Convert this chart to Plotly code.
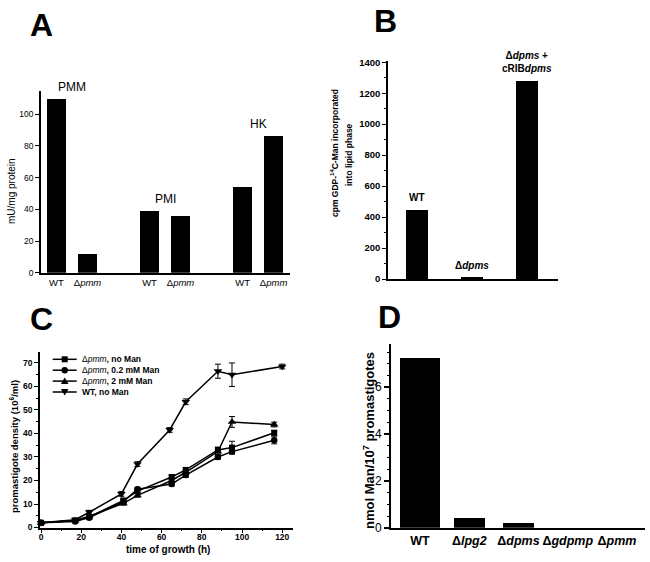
import plotly.graph_objects as go

# ---------------- data ----------------
# Panel A
a_groups = ["PMM", "PMI", "HK"]
a_strains = ["WT", "Δ<i>pmm</i>"]
a_wt = [109.5, 39.0, 54.3]
a_pmm = [12.0, 36.0, 86.0]
a_yticks = [0, 20, 40, 60, 80, 100]

# Panel B
b_labels = ["<b>WT</b>", "<b>Δ<i>dpms</i></b>", "<b>Δ<i>dpms</i> +<br>cRIB<i>dpms</i></b>"]
b_values = [446, 8, 1277]

# Panel C
c_t = [0, 17, 24, 41, 48, 65, 72, 88, 95, 116]
c_sq = [2.0, 3.0, 4.5, 11.5, 15.5, 21.5, 24.5, 33.0, 34.0, 40.3]
c_sq_err = [0.3, 0.3, 0.5, 0.8, 0.8, 1.0, 1.0, 1.2, 2.7, 1.0]
c_ci = [2.0, 2.5, 4.2, 11.0, 16.3, 18.5, 22.3, 30.0, 32.3, 37.1]
c_ci_err = [0.3, 0.3, 0.5, 0.8, 0.8, 0.8, 1.0, 1.0, 1.0, 1.5]
c_tr = [2.0, 3.0, 4.8, 10.3, 13.7, 20.0, 23.5, 32.3, 44.9, 43.8]
c_tr_err = [0.3, 0.3, 0.5, 0.8, 0.8, 1.0, 1.0, 1.5, 2.3, 1.0]
c_t_wt = [0, 17, 24, 40, 48, 64, 72, 88, 95, 120]
c_wt = [2.0, 3.3, 6.5, 14.3, 27.0, 41.5, 53.5, 66.5, 65.0, 68.5]
c_wt_err = [0.3, 0.3, 0.8, 1.0, 1.0, 1.0, 1.2, 3.0, 5.0, 1.0]
c_names = ["Δ<i>pmm</i><b>, no Man</b>", "Δ<i>pmm</i><b>, 0.2 mM Man</b>",
           "Δ<i>pmm</i><b>, 2 mM Man</b>", "<b>WT, no Man</b>"]

# Panel D
d_labels = ["<b>WT</b>", "<b>Δ<i>lpg2</i></b>", "<b>Δ<i>dpms</i></b>",
            "<b>Δ<i>gdpmp</i></b>", "<b>Δ<i>pmm</i></b>"]
d_values = [7.27, 0.44, 0.21, 0.0, 0.0]

# ---------------- helpers ----------------
W, H = 650, 562
FONT = "Liberation Sans, Arial, Helvetica, sans-serif"


def px(x):
    return x / W


def py(y):
    return 1 - y / H


fig = go.Figure()

# ---------------- Panel A ----------------
a_x = []
a_y = []
for g in range(len(a_groups)):
    a_x += [3 * g, 3 * g + 1]
    a_y += [a_wt[g], a_pmm[g]]
fig.add_trace(go.Bar(x=a_x, y=a_y, width=0.61, marker=dict(color="black", line=dict(width=0)),
                     xaxis="x", yaxis="y", showlegend=False))

# ---------------- Panel B ----------------
fig.add_trace(go.Bar(x=list(range(len(b_values))), y=b_values, width=0.4,
                     marker=dict(color="black", line=dict(width=0)),
                     xaxis="x2", yaxis="y2", showlegend=False))

# ---------------- Panel C ----------------
series = [
    (c_t, c_sq, c_sq_err, "square", 6),
    (c_t, c_ci, c_ci_err, "circle", 6.5),
    (c_t, c_tr, c_tr_err, "triangle-up", 7.5),
    (c_t_wt, c_wt, c_wt_err, "triangle-down", 7.5),
]
for (tx, vy, err, sym, sz), nm in zip(series, c_names):
    fig.add_trace(go.Scatter(
        x=tx, y=vy, mode="lines+markers", name=nm,
        line=dict(color="black", width=1.5),
        marker=dict(symbol=sym, size=sz, color="black"),
        error_y=dict(type="data", array=err, color="black", thickness=1, width=3),
        xaxis="x3", yaxis="y3", showlegend=False, cliponaxis=False))

# ---------------- Panel D ----------------
fig.add_trace(go.Bar(x=list(range(len(d_values))), y=d_values,
                     width=[0.8] + [0.63] * (len(d_values) - 1),
                     marker=dict(color="black", line=dict(width=0)),
                     xaxis="x4", yaxis="y4", showlegend=False))

axis_common = dict(showgrid=False, zeroline=False, showline=True, linecolor="black",
                   color="black", automargin=False)

fig.update_layout(
    width=W, height=H,
    margin=dict(l=0, r=0, t=0, b=0, autoexpand=False),
    paper_bgcolor="white", plot_bgcolor="white",
    font=dict(family=FONT, color="black"),
    bargap=0,
    # A
    xaxis=dict(axis_common, domain=[px(41), px(290)], range=[-0.5, 7.53], anchor="y",
               tickvals=a_x, ticktext=a_strains * len(a_groups), ticks="",
               linewidth=1.5, tickfont=dict(size=9.5)),
    yaxis=dict(axis_common, domain=[py(272.7), py(91)], range=[0, 114.7], anchor="x",
               tickvals=a_yticks, ticks="outside", ticklen=4, tickwidth=1, linewidth=1.5,
               tickfont=dict(size=8.5)),
    # B
    xaxis2=dict(axis_common, domain=[px(388), px(558)], range=[-0.53, 2.56], anchor="y2",
                showticklabels=False, ticks="", linewidth=1.5),
    yaxis2=dict(axis_common, domain=[py(279), py(61)], range=[0, 1408], anchor="x2",
                dtick=200, ticks="outside", ticklen=4, tickwidth=1.2, linewidth=1.5,
                minor=dict(dtick=100, ticks="outside", ticklen=2, tickwidth=1, tickcolor="black"),
                tickfont=dict(size=9.5), tickprefix="<b>", ticksuffix="</b>"),
    # C
    xaxis3=dict(axis_common, domain=[px(40), px(293.3)], range=[-0.5, 125.5], anchor="y3",
                dtick=20, ticks="outside", ticklen=4, tickwidth=1.2, linewidth=1.5,
                minor=dict(dtick=10, ticks="outside", ticklen=2, tickwidth=1, tickcolor="black"),
                tickfont=dict(size=8.5), tickprefix="<b>", ticksuffix="</b>",
                ticklabelstandoff=-3),
    yaxis3=dict(axis_common, domain=[py(527.5), py(351.7)], range=[0, 74.8], anchor="x3",
                dtick=10, ticks="outside", ticklen=4, tickwidth=1.2, linewidth=1.5,
                minor=dict(dtick=5, ticks="outside", ticklen=2, tickwidth=1, tickcolor="black"),
                tickfont=dict(size=8.5), tickprefix="<b>", ticksuffix="</b>"),
    # D
    xaxis4=dict(axis_common, domain=[px(391), px(645)], range=[-0.59, 4.57], anchor="y4",
                tickvals=list(range(len(d_labels))), ticktext=d_labels, ticks="",
                linewidth=2, tickfont=dict(size=12.5)),
    yaxis4=dict(axis_common, domain=[py(527.7), py(343.7)], range=[0, 7.86], anchor="x4",
                dtick=2, ticks="outside", ticklen=5, tickwidth=1.5, linewidth=2,
                minor=dict(dtick=0.5, ticks="outside", ticklen=2.5, tickwidth=1, tickcolor="black"),
                tickfont=dict(size=12)),
)

ann = []


def add_text(text, x, y, size, angle=0, xanchor="center", yanchor="middle",
             xref="paper", yref="paper", yshift=0):
    ann.append(dict(text=text, x=x, y=y, xref=xref, yref=yref, textangle=angle,
                    xanchor=xanchor, yanchor=yanchor, yshift=yshift, showarrow=False,
                    font=dict(size=size, family=FONT, color="black")))


# panel letters
for letter, (lx, ly) in zip("ABCD", [(41.5, 25), (386, 21), (41.5, 319), (389, 317)]):
    add_text(f"<b>{letter}</b>", px(lx), py(ly), 32)

# Panel A group labels
for g, name in enumerate(a_groups):
    add_text(name, 3 * g + 0.5, max(a_wt[g], a_pmm[g]), 12, yanchor="bottom",
             xref="x", yref="y", yshift=3)
# Panel B bar labels
for i, lab in enumerate(b_labels):
    add_text(lab, i, b_values[i], 10, yanchor="bottom", xref="x2", yref="y2", yshift=5)

# axis titles
add_text("mU/mg protein", px(12), py(191), 10, angle=-90)
add_text("<b>cpm GDP-<sup>14</sup>C-Man incorporated</b>", px(334), py(153), 8.5, angle=-90)
add_text("<b>into lipid phase</b>", px(348.5), py(154.5), 8.5, angle=-90)
add_text("<b>promastigote density (10<sup>6</sup>/ml)</b>", px(14), py(447), 9.5, angle=-90)
add_text("<b>time of growth (h)</b>", px(168), py(549.5), 10)
add_text("<b>nmol Man/10<sup>7</sup> promastigotes</b>", px(369), py(441), 13, angle=-90)

# Panel C legend (drawn manually for compact rows)
shapes = []
rows = [359.3, 370.2, 381.1, 392.0]
syms = ["square", "circle", "triangle-up", "triangle-down"]
for ry, sym, nm in zip(rows, syms, c_names):
    shapes.append(dict(type="line", xref="paper", yref="paper", x0=px(52.7), x1=px(76.7),
                       y0=py(ry), y1=py(ry), line=dict(color="black", width=1.5)))
    cx = 64.7
    if sym == "square":
        shapes.append(dict(type="rect", xref="paper", yref="paper", x0=px(cx - 3), x1=px(cx + 3),
                           y0=py(ry + 3), y1=py(ry - 3), fillcolor="black", line=dict(width=0)))
    elif sym == "circle":
        shapes.append(dict(type="circle", xref="paper", yref="paper", x0=px(cx - 3.2), x1=px(cx + 3.2),
                           y0=py(ry + 3.2), y1=py(ry - 3.2), fillcolor="black", line=dict(width=0)))
    elif sym == "triangle-up":
        path = (f"M {px(cx - 3.8)},{py(ry + 3)} L {px(cx + 3.8)},{py(ry + 3)} "
                f"L {px(cx)},{py(ry - 3.6)} Z")
        shapes.append(dict(type="path", xref="paper", yref="paper", path=path,
                           fillcolor="black", line=dict(width=0)))
    else:
        path = (f"M {px(cx - 3.8)},{py(ry - 3)} L {px(cx + 3.8)},{py(ry - 3)} "
                f"L {px(cx)},{py(ry + 3.6)} Z")
        shapes.append(dict(type="path", xref="paper", yref="paper", path=path,
                           fillcolor="black", line=dict(width=0)))
    add_text(nm, px(80), py(ry), 8.5, xanchor="left")

fig.update_layout(annotations=ann, shapes=shapes)

fig.write_html(
    "out.html",
    config={"displayModeBar": False},
    post_script="document.body.style.margin='0';document.body.style.overflow='hidden';",
)
